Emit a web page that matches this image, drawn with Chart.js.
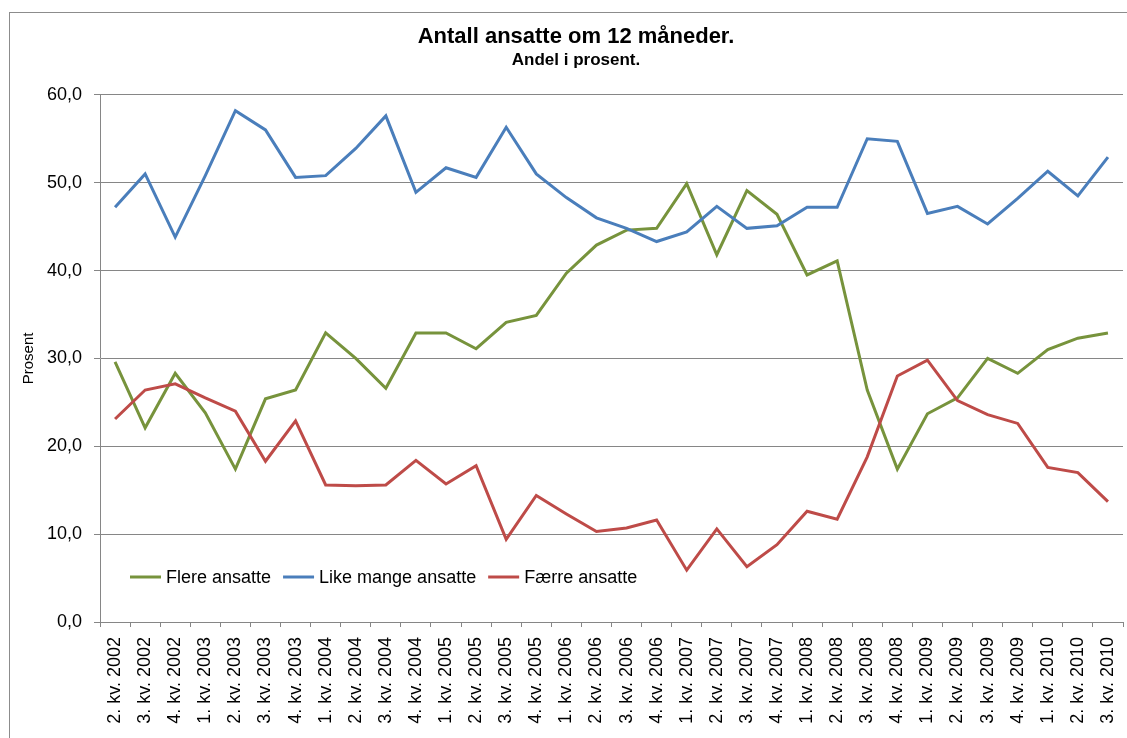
<!DOCTYPE html>
<html>
<head>
<meta charset="utf-8">
<script src="https://cdn.jsdelivr.net/npm/chart.js@4/dist/chart.umd.min.js"></script>
<style>
  html, body { margin: 0; padding: 0; background: #fff; overflow: hidden; }
  #wrap { position: relative; width: 1127px; height: 738px; }
  #frame { position: absolute; left: 9px; top: 12px; width: 1140px; height: 760px; border: 1px solid #8c8c8c; box-sizing: border-box; }
  canvas { position: absolute; left: 0; top: 0; }
</style>
</head>
<body>
<div id="wrap">
  <div id="frame"></div>
  <canvas id="chart" width="1127" height="738"></canvas>
</div>
<script>
const quarters = [
  '2. kv. 2002', '3. kv. 2002', '4. kv. 2002',
  '1. kv. 2003', '2. kv. 2003', '3. kv. 2003', '4. kv. 2003',
  '1. kv. 2004', '2. kv. 2004', '3. kv. 2004', '4. kv. 2004',
  '1. kv. 2005', '2. kv. 2005', '3. kv. 2005', '4. kv. 2005',
  '1. kv. 2006', '2. kv. 2006', '3. kv. 2006', '4. kv. 2006',
  '1. kv. 2007', '2. kv. 2007', '3. kv. 2007', '4. kv. 2007',
  '1. kv. 2008', '2. kv. 2008', '3. kv. 2008', '4. kv. 2008',
  '1. kv. 2009', '2. kv. 2009', '3. kv. 2009', '4. kv. 2009',
  '1. kv. 2010', '2. kv. 2010', '3. kv. 2010'
];

const flereAnsatte = [29.6, 22.1, 28.3, 23.8, 17.4, 25.4, 26.4, 32.9, 30.0, 26.6, 32.9, 32.9, 31.1, 34.1, 34.9, 39.7, 42.9,
  44.6, 44.8, 49.9, 41.8, 49.1, 46.4, 39.5, 41.1, 26.4, 17.4, 23.7, 25.5, 30.0, 28.3, 31.0, 32.3, 32.9];
const likeMangeAnsatte = [47.2, 51.0, 43.8, 50.8, 58.2, 56.0, 50.6, 50.8, 53.9, 57.6, 48.9, 51.7, 50.6, 56.3, 51.0, 48.3, 46.0,
  44.8, 43.3, 44.4, 47.3, 44.8, 45.1, 47.2, 47.2, 55.0, 54.7, 46.5, 47.3, 45.3, 48.2, 51.3, 48.5, 52.9];
const faerreAnsatte = [23.1, 26.4, 27.1, 25.5, 24.0, 18.3, 22.9, 15.6, 15.5, 15.6, 18.4, 15.7, 17.8, 9.4, 14.4, 12.3, 10.3,
  10.7, 11.6, 5.9, 10.6, 6.3, 8.8, 12.6, 11.7, 18.8, 28.0, 29.8, 25.2, 23.6, 22.6, 17.6, 17.0, 13.7];

const seriesNames = ['Flere ansatte', 'Like mange ansatte', 'Færre ansatte'];
const yMin = 0, yMax = 60, yStep = 10;

const FONT = '"Liberation Sans", Arial, sans-serif';
const GRID = '#868686';

// legend drawn inside the plot, like the Excel original
const innerLegend = {
  id: 'innerLegend',
  afterDatasetsDraw(chart) {
    const ctx = chart.ctx;
    const area = chart.chartArea;
    let x = area.left + 30;
    const y = area.bottom - 45;
    ctx.save();
    ctx.font = '18px ' + FONT;
    ctx.textBaseline = 'middle';
    chart.data.datasets.forEach(ds => {
      ctx.strokeStyle = ds.borderColor;
      ctx.lineWidth = 3;
      ctx.beginPath();
      ctx.moveTo(x, y);
      ctx.lineTo(x + 31, y);
      ctx.stroke();
      x += 36;
      ctx.fillStyle = '#000';
      ctx.fillText(ds.label, x, y + 1);
      x += ctx.measureText(ds.label).width + 12;
    });
    ctx.restore();
  }
};

function lineSet(label, values, color, order) {
  return {
    label: label,
    data: values,
    borderColor: color,
    backgroundColor: color,
    borderWidth: 3,
    pointRadius: 0,
    tension: 0,
    fill: false,
    order: order
  };
}

new Chart(document.getElementById('chart'), {
  type: 'line',
  data: {
    labels: quarters,
    datasets: [
      lineSet(seriesNames[0], flereAnsatte, '#77933C', 3),
      lineSet(seriesNames[1], likeMangeAnsatte, '#4A7EBB', 2),
      lineSet(seriesNames[2], faerreAnsatte, '#BE4B48', 1)
    ]
  },
  options: {
    responsive: false,
    animation: false,
    layout: { padding: { left: 29, right: 4, top: 24, bottom: 0 } },
    plugins: {
      legend: { display: false },
      tooltip: { enabled: false },
      title: {
        display: true,
        text: 'Antall ansatte om 12 måneder.',
        color: '#000',
        font: { family: FONT, size: 22, weight: 'bold' },
        padding: { top: 0, bottom: 0 }
      },
      subtitle: {
        display: true,
        text: 'Andel i prosent.',
        color: '#000',
        font: { family: FONT, size: 17, weight: 'bold' },
        padding: { top: 0, bottom: 24 }
      }
    },
    scales: {
      x: {
        offset: true,
        grid: { drawOnChartArea: false, drawTicks: true, tickLength: 5, color: GRID, offset: true },
        border: { color: GRID },
        ticks: {
          autoSkip: false,
          maxRotation: 90,
          minRotation: 90,
          padding: 10,
          color: '#000',
          font: { family: FONT, size: 18 }
        },
        afterFit(scale) {
          scale.height = 116;
          scale.paddingLeft = 0;
          scale.paddingRight = 0;
        }
      },
      y: {
        min: yMin,
        max: yMax,
        grid: { color: GRID, tickLength: 6 },
        border: { color: GRID },
        ticks: {
          stepSize: yStep,
          padding: 12,
          color: '#000',
          font: { family: FONT, size: 18 },
          callback: v => v.toFixed(1).replace('.', ',')
        },
        title: {
          display: true,
          text: 'Prosent',
          color: '#000',
          font: { family: FONT, size: 15 },
          padding: { top: -9, bottom: 0 }
        },
        afterFit(scale) { scale.width = 71; }
      }
    }
  },
  plugins: [innerLegend]
});
</script>
</body>
</html>
